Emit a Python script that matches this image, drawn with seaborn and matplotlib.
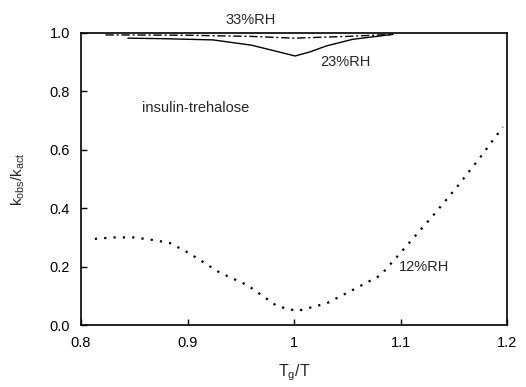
import matplotlib
matplotlib.use("Agg")
import matplotlib.pyplot as plt
import seaborn as sns
import pandas as pd

# 12% RH (dotted)
x12 = [0.813, 0.83, 0.85, 0.87, 0.884, 0.902, 0.93, 0.956, 0.984, 1.003, 1.031,
       1.055, 1.081, 1.097, 1.109, 1.131, 1.153, 1.175, 1.196]
y12 = [0.295, 0.30, 0.30, 0.29, 0.28, 0.245, 0.18, 0.137, 0.065, 0.048, 0.075,
       0.12, 0.17, 0.235, 0.285, 0.377, 0.473, 0.575, 0.678]
# 23% RH (solid)
x23 = [0.844, 0.88, 0.924, 0.96, 0.98, 1.001, 1.015, 1.03, 1.055, 1.093]
y23 = [0.982, 0.980, 0.976, 0.958, 0.940, 0.921, 0.935, 0.955, 0.978, 0.995]
# 33% RH (dash-dot)
x33 = [0.823, 0.9, 0.96, 1.0, 1.05, 1.093]
y33 = [0.993, 0.992, 0.988, 0.982, 0.988, 0.995]

xticks = [0.8, 0.9, 1.0, 1.1, 1.2]
xticklabels = ["0.8", "0.9", "1", "1.1", "1.2"]
yticks = [0.0, 0.2, 0.4, 0.6, 0.8, 1.0]
yticklabels = ["0.0", "0.2", "0.4", "0.6", "0.8", "1.0"]

sns.set_style("ticks")
plt.rcParams["font.family"] = ["Liberation Sans", "DejaVu Sans"]

fig = plt.figure(figsize=(5.26, 3.87), dpi=100)
ax = fig.add_axes([0.154, 0.160, 0.810, 0.755])

d12 = pd.DataFrame({"x": x12, "y": y12})
d23 = pd.DataFrame({"x": x23, "y": y23})
d33 = pd.DataFrame({"x": x33, "y": y33})

sns.lineplot(data=d12, x="x", y="y", ax=ax, color="black", lw=1.6,
             linestyle=(0, (1, 3.2)), sort=False)
sns.lineplot(data=d23, x="x", y="y", ax=ax, color="black", lw=1.0, sort=False)
sns.lineplot(data=d33, x="x", y="y", ax=ax, color="black", lw=1.0,
             linestyle=(0, (6, 2, 1.5, 2)), sort=False)

ax.set_xlim(0.8, 1.2)
ax.set_ylim(0.0, 1.0)
ax.set_xticks(xticks)
ax.set_xticklabels(xticklabels)
ax.set_yticks(yticks)
ax.set_yticklabels(yticklabels)
ax.tick_params(direction="in", length=4, width=1, labelsize=10.5, pad=8, colors="black")
for s in ax.spines.values():
    s.set_linewidth(1.2)
    s.set_color("black")

ax.set_xlabel(r"T$_\mathregular{g}$/T", fontsize=11.5, labelpad=9)
ax.set_ylabel(r"k$_\mathregular{obs}$/k$_\mathregular{act}$", fontsize=11, labelpad=16)

ax.text(0.959, 1.045, "33%RH", ha="center", va="center", fontsize=10.5, clip_on=False)
ax.text(1.048, 0.90, "23%RH", ha="center", va="center", fontsize=10.5)
ax.text(0.857, 0.743, "insulin-trehalose", ha="left", va="center", fontsize=10.5)
ax.text(1.098, 0.199, "12%RH", ha="left", va="center", fontsize=10.5)

fig.savefig("out.png", dpi=100)
